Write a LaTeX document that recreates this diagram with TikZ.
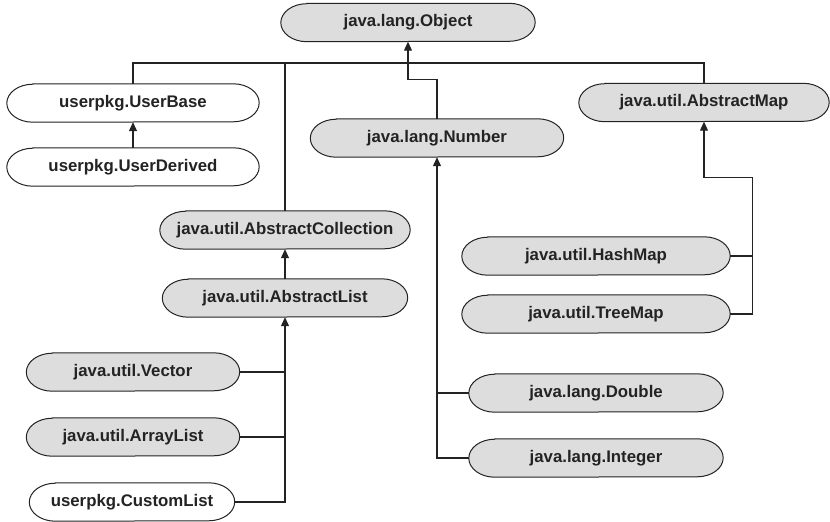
\documentclass[tikz,border=0pt]{standalone}
\usepackage{fontspec}
\setmainfont{Liberation Sans}
\usepackage{xcolor}
\usetikzlibrary{arrows.meta, calc}

\definecolor{classgray}{RGB}{221,221,221}
\definecolor{inkline}{RGB}{35,35,35}

\pgfdeclarelayer{background}
\pgfsetlayers{background,main}

\begin{document}
\begin{tikzpicture}[x=1pt, y=-1pt,
  cls/.style={minimum height=38pt, inner sep=0pt, text=inkline,
              font=\bfseries\fontsize{16.8}{19}\selectfont},
  pill/.style={draw=inkline, line width=1pt},
  link/.style={draw=inkline, line width=1.2pt},
  inherit/.style={link, -{Triangle[length=9pt, width=8pt]}}
]
\useasboundingbox (0,0) rectangle (830,522);

% classes (y grows downward)
\node[cls, minimum width=254pt] (obj)   at (408, 22.5) {java.lang.Object};
\node[cls, minimum width=252pt] (ubase) at (133, 103)  {userpkg.UserBase};
\node[cls, minimum width=252pt] (uder)  at (133, 167)  {userpkg.UserDerived};
\node[cls, minimum width=253pt] (num)   at (437, 138)  {java.lang.Number};
\node[cls, minimum width=250pt] (amap)  at (704, 102.5) {java.util.AbstractMap};
\node[cls, minimum width=250pt] (acoll) at (285, 230)  {java.util.AbstractCollection};
\node[cls, minimum width=245pt] (alist) at (285, 298)  {java.util.AbstractList};
\node[cls, minimum width=213pt] (vec)   at (133, 372)  {java.util.Vector};
\node[cls, minimum width=213pt] (alst)  at (133, 437)  {java.util.ArrayList};
\node[cls, minimum width=205pt] (cust)  at (132, 502)  {userpkg.CustomList};
\node[cls, minimum width=268pt] (hmap)  at (596, 256)  {java.util.HashMap};
\node[cls, minimum width=268pt] (tmap)  at (596, 314)  {java.util.TreeMap};
\node[cls, minimum width=254pt] (dbl)   at (596, 393)  {java.lang.Double};
\node[cls, minimum width=254pt] (intg)  at (596, 458)  {java.lang.Integer};

% outlines with elliptic ends
\begin{pgfonlayer}{background}
\foreach \n/\c in {obj/classgray, ubase/white, uder/white, num/classgray,
                   amap/classgray, acoll/classgray, alist/classgray,
                   vec/classgray, alst/classgray, cust/white, hmap/classgray,
                   tmap/classgray, dbl/classgray, intg/classgray}
  \draw[pill, fill=\c] ($(\n.north west)+(26,0)$) -- ($(\n.north east)-(26,0)$)
    arc[start angle=90, end angle=-90, x radius=26pt, y radius=19pt]
    -- ($(\n.south west)+(26,0)$)
    arc[start angle=270, end angle=90, x radius=26pt, y radius=19pt] -- cycle;
\end{pgfonlayer}

% top bus
\coordinate (joint) at (408, 63);
\draw[inherit] (joint) -- (obj.south);
\draw[link] (ubase.north) |- (joint);
\draw[link] (amap.north)  |- (joint);
\draw[link] (acoll.north) |- (joint);
\draw[link] (num.north) -- ++(0,-39) -| (joint);

\draw[inherit] (uder) -- (ubase);
\draw[inherit] (alist) -- (acoll);

% lists
\draw[inherit] (cust.east) -| (alist.south);
\draw[link] (vec.east)  -- (vec.east -| alist.south);
\draw[link] (alst.east) -- (alst.east -| alist.south);

% maps
\draw[inherit] (tmap.east) -- ++(22,0) |- ($(amap.south)+(0,56)$) -- (amap.south);
\draw[link] (hmap.east) -- ++(22,0);

% numbers
\draw[inherit] (intg.west) -| (num.south);
\draw[link] (dbl.west) -- (dbl.west -| num.south);
\end{tikzpicture}
\end{document}
